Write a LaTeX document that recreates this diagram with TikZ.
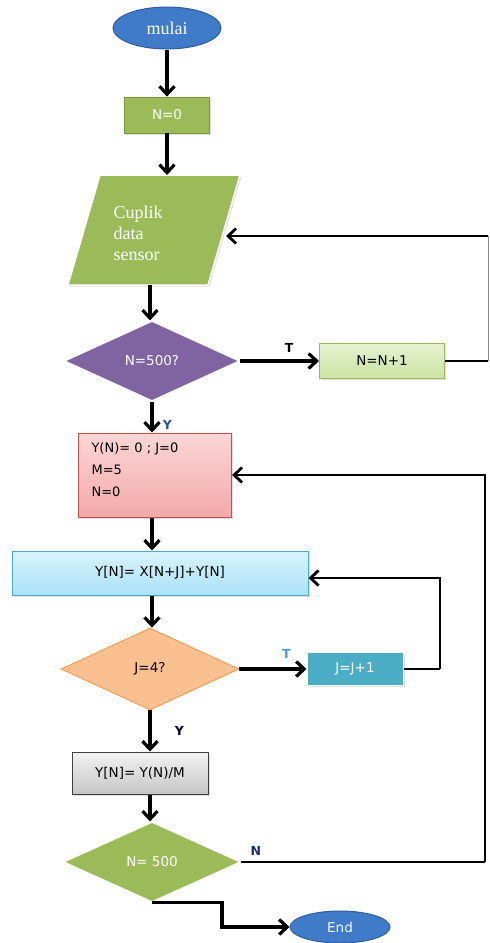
\documentclass[tikz,border=0pt]{standalone}
\usepackage{fontspec}
\setmainfont{DejaVu Sans}
\newfontfamily\serifx{Liberation Serif}
\usetikzlibrary{shapes.geometric,arrows.meta,calc,shadows}
\definecolor{eblue}{HTML}{3F7BC8}
\definecolor{eblueD}{HTML}{2E5E9E}
\definecolor{ggreen}{HTML}{9BBB59}
\definecolor{ggreenD}{HTML}{7A9A3A}
\definecolor{purp}{HTML}{8064A2}
\definecolor{lgreenT}{HTML}{E6F2D0}
\definecolor{lgreenB}{HTML}{CCE3A3}
\definecolor{pinkT}{HTML}{FAD6D6}
\definecolor{pinkB}{HTML}{F3A9A9}
\definecolor{pinkD}{HTML}{C0504D}
\definecolor{cyanT}{HTML}{D9F4FD}
\definecolor{cyanB}{HTML}{A9E1F5}
\definecolor{cyanD}{HTML}{4BACC6}
\definecolor{orng}{HTML}{FAC090}
\definecolor{orngD}{HTML}{F79646}
\definecolor{teal}{HTML}{4BACC6}
\definecolor{grayT}{HTML}{F2F2F2}
\definecolor{grayB}{HTML}{C6C6C6}
\definecolor{lblY}{HTML}{2F4FA0}
\definecolor{lblT}{HTML}{4A9BD8}
\definecolor{lblN}{HTML}{1F2A6A}
\begin{document}
\begin{tikzpicture}[x=1pt,y=-1pt,font=\fontsize{13.5}{16}\selectfont,
  ellip/.style={ellipse, draw=eblueD, line width=1pt, fill=eblue, text=white, inner sep=0pt},
  boxx/.style={rectangle, inner sep=0pt, drop shadow={opacity=0.25, shadow xshift=1.5pt, shadow yshift=-1.5pt}},
  dia/.style={diamond, inner sep=0pt, aspect=2},
  flow/.style={line width=3.2pt, -{Straight Barb[length=8pt,width=15pt]}},
  loopline/.style={line width=2.4pt},
  loopflow/.style={line width=2.8pt, -{Straight Barb[length=8pt,width=15pt]}},
  thinline/.style={line width=1pt, draw=black!45},
  lbl/.style={font=\fontsize{12.5}{14}\selectfont\bfseries}]
\useasboundingbox (0,0) rectangle (490,943);
% start
\node[ellip, minimum width=108pt, minimum height=42pt] (mulai) at (167,28) {\serifx\fontsize{18}{20}\selectfont mulai};
\node[boxx, fill=ggreen, draw=ggreenD, line width=0.8pt, text=white, minimum width=85pt, minimum height=36pt] (n0) at (167,115) {N=0};
% parallelogram
\path[fill=ggreen, draw=white, line width=1.5pt, drop shadow={opacity=0.25, shadow xshift=1.5pt, shadow yshift=-1.5pt}] (100,175) -- (240,175) -- (208,285) -- (68,285) -- cycle;
\node[align=left, anchor=west, text=white, font=\serifx\fontsize{18}{21}\selectfont] (cuplik) at (110,233) {Cuplik\\data\\sensor};
\coordinate (cupT) at (167,175);
\coordinate (cupB) at (150,285);
\coordinate (cupR) at (226,236);
% decision 1
\node[dia, fill=purp, draw=white, line width=1.2pt, text=white, minimum width=175pt, minimum height=80pt] (d1) at (152,361) {N=500?};
\node[boxx, top color=lgreenT, bottom color=lgreenB, draw=ggreen, line width=1pt, minimum width=125pt, minimum height=35pt] (inc) at (382,361) {N=N+1};
% init box
\node[boxx, top color=pinkT, bottom color=pinkB, draw=pinkD, line width=1pt, minimum width=153pt, minimum height=84pt] (init) at (155,475) {};
\node[align=left, anchor=north west, font=\fontsize{13}{22}\selectfont] (inittxt) at (88,439) {Y(N)= 0 ; J=0\\M=5\\N=0};
% sum box
\node[boxx, top color=cyanT, bottom color=cyanB, draw=cyanD, line width=1pt, minimum width=296pt, minimum height=44pt] (sum) at (160,573) {Y[N]= X[N+J]+Y[N]};
% decision 2
\node[dia, fill=orng, draw=orngD, line width=0.8pt, minimum width=178pt, minimum height=82pt] (d2) at (150,669) {J=4?};
\node[boxx, fill=teal, draw=white, line width=1pt, text=white, minimum width=96pt, minimum height=33pt] (jinc) at (355,669) {J=J+1};
% average box
\node[boxx, top color=grayT, bottom color=grayB, draw=black!75, line width=1pt, minimum width=136pt, minimum height=42pt] (avg) at (140,773) {Y[N]= Y(N)/M};
% decision 3
\node[dia, fill=ggreen, draw=white, line width=1.2pt, text=white, minimum width=177pt, minimum height=80pt] (d3) at (152,862) {N= 500};
% end
\node[ellip, minimum width=100pt, minimum height=32pt] (fin) at (340,927) {End};

% main flow
\draw[flow] (mulai.south) -- (n0.north);
\draw[flow] (n0.south) -- (cupT);
\draw[flow] (cupB) -- (cupB |- d1.north);
\draw[flow] (d1.east) -- (inc.west) node[lbl, pos=0.62, above=4pt] (t1) {T};
\draw[loopline] (inc.east) -- (488,361) coordinate (c1);
\draw[thinline] (c1) -- (488,236) coordinate (c1b);
\draw[loopflow] (c1b) -- (cupR);
\draw[flow] (d1.south) -- (d1.south |- init.north) node[lbl, text=lblY, pos=0.75, right=6pt] (y1) {Y};
\draw[flow] (init.south -| d1.south) -- (d1.south |- sum.north);
\draw[flow] (d1.south |- sum.south) -- (d1.south |- d2.north);
\draw[flow] (d2.east) -- (jinc.west) node[lbl, text=lblT, pos=0.7, above=6pt] (t2) {T};
\draw[loopline] (jinc.east) -- (440,669) coordinate (c2);
\draw[loopflow] (c2) |- (sum.east |- 0,578);
\draw[flow] (d2.south) -- (d2.south |- avg.north) node[lbl, text=black!80!blue, pos=0.5, right=20pt] (y2) {Y};
\draw[flow] (d2.south |- avg.south) -- (d2.south |- d3.north);
\draw[loopline] (d3.east) -- (485,862) coordinate (c3) node[lbl, text=lblN, pos=0.06, above=2pt] (n1) {N};
\draw[loopflow] (c3) |- (init.east);
\draw[flow] (d3.south) -- ++(70,0) |- (fin.west);
\end{tikzpicture}
\end{document}
